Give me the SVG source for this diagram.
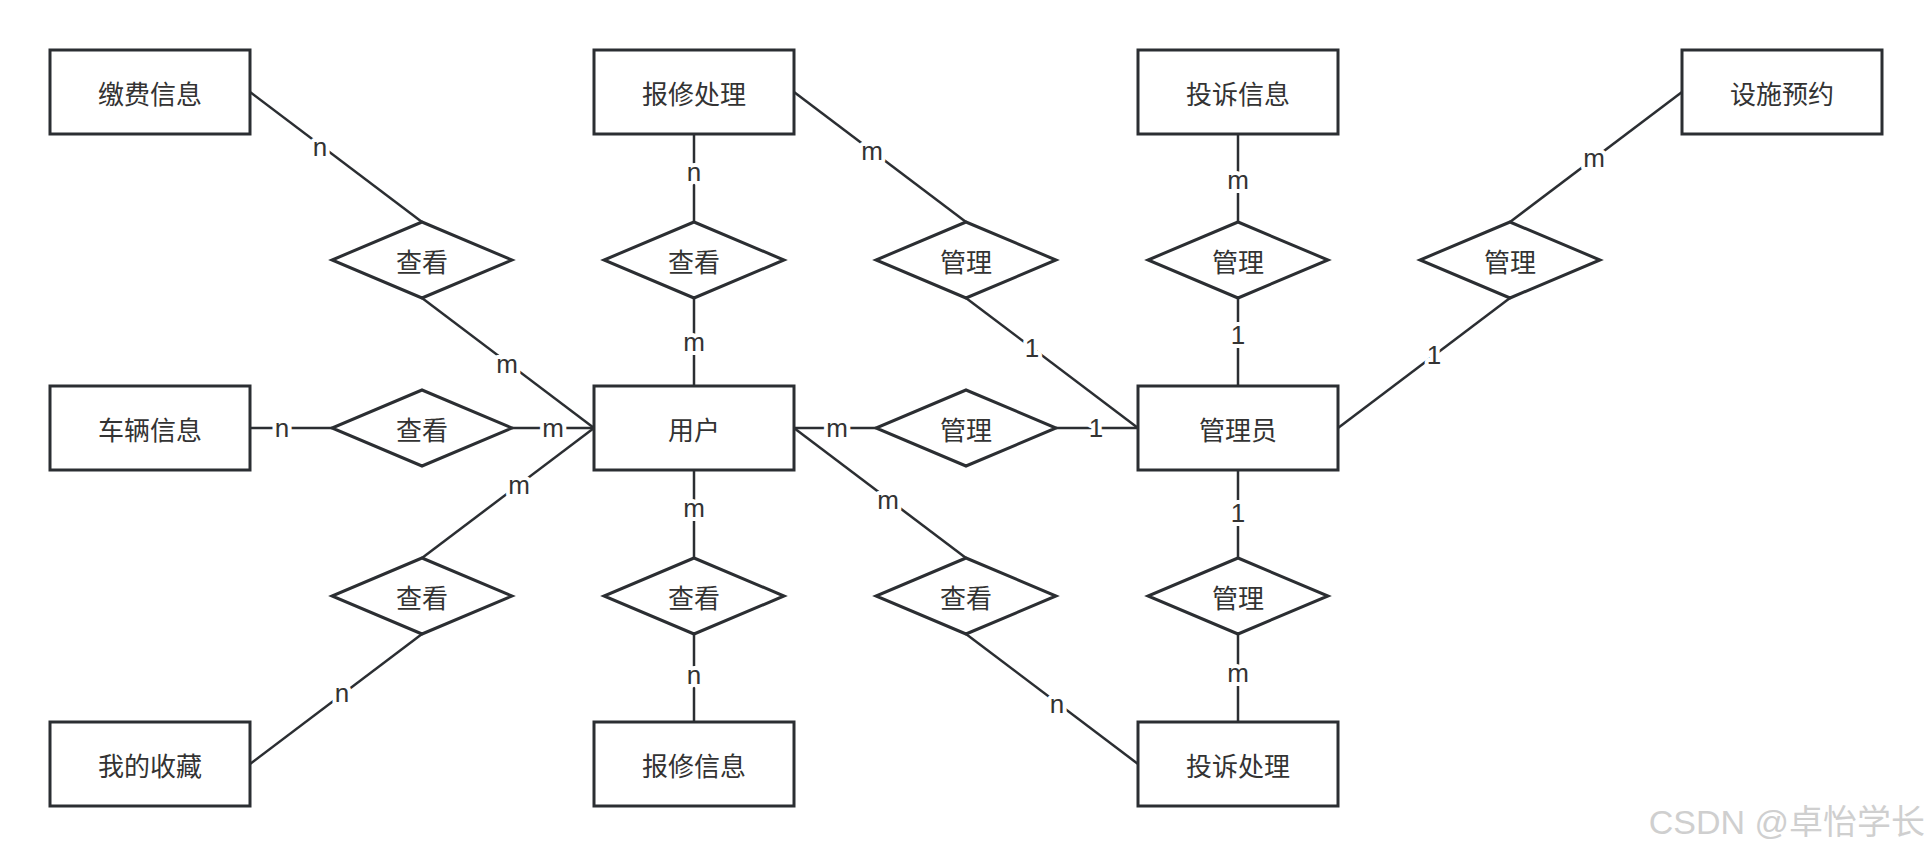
<svg xmlns="http://www.w3.org/2000/svg" width="1932" height="856" viewBox="0 0 1932 856">
<style>
.ent rect{fill:#fff;stroke:#2b2e32;stroke-width:3}
.rel polygon{fill:#fff;stroke:#2b2e32;stroke-width:3}
text{font-family:"Noto Sans CJK SC","Liberation Sans",sans-serif;font-size:26px;fill:#333;text-anchor:middle;dominant-baseline:central}
#connectors line{stroke:#2b2e32;stroke-width:2.5}
.lbl{font-family:"Liberation Sans","Noto Sans CJK SC",sans-serif;font-size:26px;paint-order:stroke;stroke:#fff;stroke-width:8px;stroke-linejoin:round}
.wm{font-family:"Liberation Sans","Noto Sans CJK SC",sans-serif;font-size:34px;fill:#cfcfcf;text-anchor:end}
</style>
<rect width="1932" height="856" fill="#fff"/>
<g id="connectors">
<line x1="250" y1="92" x2="422" y2="222"/>
<line x1="422" y1="298" x2="594" y2="428"/>
<line x1="694" y1="134" x2="694" y2="222"/>
<line x1="694" y1="298" x2="694" y2="386"/>
<line x1="250" y1="428" x2="332" y2="428"/>
<line x1="512" y1="428" x2="594" y2="428"/>
<line x1="594" y1="428" x2="422" y2="558"/>
<line x1="422" y1="634" x2="250" y2="764"/>
<line x1="694" y1="470" x2="694" y2="558"/>
<line x1="694" y1="634" x2="694" y2="722"/>
<line x1="794" y1="92" x2="966" y2="222"/>
<line x1="966" y1="298" x2="1138" y2="428"/>
<line x1="1238" y1="134" x2="1238" y2="222"/>
<line x1="1238" y1="298" x2="1238" y2="386"/>
<line x1="1682" y1="92" x2="1510" y2="222"/>
<line x1="1510" y1="298" x2="1338" y2="428"/>
<line x1="794" y1="428" x2="876" y2="428"/>
<line x1="1056" y1="428" x2="1138" y2="428"/>
<line x1="794" y1="428" x2="966" y2="558"/>
<line x1="966" y1="634" x2="1138" y2="764"/>
<line x1="1238" y1="470" x2="1238" y2="558"/>
<line x1="1238" y1="634" x2="1238" y2="722"/>
<text class="lbl" x="320" y="147">n</text>
<text class="lbl" x="507" y="364">m</text>
<text class="lbl" x="694" y="172">n</text>
<text class="lbl" x="694" y="342">m</text>
<text class="lbl" x="282" y="428">n</text>
<text class="lbl" x="553" y="428">m</text>
<text class="lbl" x="519" y="485">m</text>
<text class="lbl" x="342" y="693">n</text>
<text class="lbl" x="694" y="508">m</text>
<text class="lbl" x="694" y="675">n</text>
<text class="lbl" x="872" y="151">m</text>
<text class="lbl" x="1032" y="348">1</text>
<text class="lbl" x="1238" y="180">m</text>
<text class="lbl" x="1238" y="335">1</text>
<text class="lbl" x="1594" y="158">m</text>
<text class="lbl" x="1434" y="355">1</text>
<text class="lbl" x="837" y="428">m</text>
<text class="lbl" x="1096" y="428">1</text>
<text class="lbl" x="888" y="500">m</text>
<text class="lbl" x="1057" y="704">n</text>
<text class="lbl" x="1238" y="513">1</text>
<text class="lbl" x="1238" y="673">m</text>
</g>
<g id="e_jiaofei" class="ent"><rect x="50" y="50" width="200" height="84"/><text x="150" y="92">缴费信息</text></g>
<g id="e_baoxiuchuli" class="ent"><rect x="594" y="50" width="200" height="84"/><text x="694" y="92">报修处理</text></g>
<g id="e_tousuxinxi" class="ent"><rect x="1138" y="50" width="200" height="84"/><text x="1238" y="92">投诉信息</text></g>
<g id="e_sheshi" class="ent"><rect x="1682" y="50" width="200" height="84"/><text x="1782" y="92">设施预约</text></g>
<g id="e_cheliang" class="ent"><rect x="50" y="386" width="200" height="84"/><text x="150" y="428">车辆信息</text></g>
<g id="e_yonghu" class="ent"><rect x="594" y="386" width="200" height="84"/><text x="694" y="428">用户</text></g>
<g id="e_guanliyuan" class="ent"><rect x="1138" y="386" width="200" height="84"/><text x="1238" y="428">管理员</text></g>
<g id="e_shoucang" class="ent"><rect x="50" y="722" width="200" height="84"/><text x="150" y="764">我的收藏</text></g>
<g id="e_baoxiuxinxi" class="ent"><rect x="594" y="722" width="200" height="84"/><text x="694" y="764">报修信息</text></g>
<g id="e_tousuchuli" class="ent"><rect x="1138" y="722" width="200" height="84"/><text x="1238" y="764">投诉处理</text></g>
<g id="r1" class="rel"><polygon points="422,222 512,260 422,298 332,260"/><text x="422" y="260">查看</text></g>
<g id="r2" class="rel"><polygon points="694,222 784,260 694,298 604,260"/><text x="694" y="260">查看</text></g>
<g id="r3" class="rel"><polygon points="966,222 1056,260 966,298 876,260"/><text x="966" y="260">管理</text></g>
<g id="r4" class="rel"><polygon points="1238,222 1328,260 1238,298 1148,260"/><text x="1238" y="260">管理</text></g>
<g id="r5" class="rel"><polygon points="1510,222 1600,260 1510,298 1420,260"/><text x="1510" y="260">管理</text></g>
<g id="r6" class="rel"><polygon points="422,390 512,428 422,466 332,428"/><text x="422" y="428">查看</text></g>
<g id="r7" class="rel"><polygon points="966,390 1056,428 966,466 876,428"/><text x="966" y="428">管理</text></g>
<g id="r8" class="rel"><polygon points="422,558 512,596 422,634 332,596"/><text x="422" y="596">查看</text></g>
<g id="r9" class="rel"><polygon points="694,558 784,596 694,634 604,596"/><text x="694" y="596">查看</text></g>
<g id="r10" class="rel"><polygon points="966,558 1056,596 966,634 876,596"/><text x="966" y="596">查看</text></g>
<g id="r11" class="rel"><polygon points="1238,558 1328,596 1238,634 1148,596"/><text x="1238" y="596">管理</text></g>
<text class="wm" x="1925" y="822">CSDN @卓怡学长</text>
</svg>
